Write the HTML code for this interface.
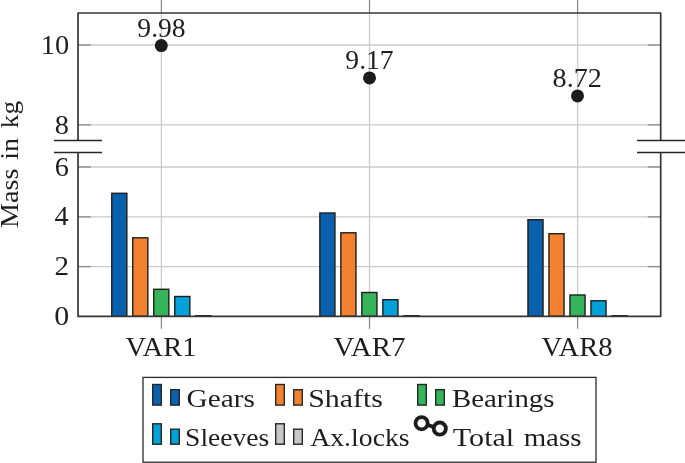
<!DOCTYPE html>
<html><head><meta charset="utf-8"><style>
html,body{margin:0;padding:0;background:#fff;}
body{width:685px;height:463px;overflow:hidden;}
svg{display:block;}
</style></head><body>
<svg width="685" height="463" viewBox="0 0 685 463" font-family="'Liberation Serif', serif">
<rect width="685" height="463" fill="#fff"/>
<g stroke="#cacaca" stroke-width="1.3"><line x1="78.0" y1="45.0" x2="660.7" y2="45.0"/><line x1="78.0" y1="124.85" x2="660.7" y2="124.85"/><line x1="78.0" y1="167.0" x2="660.7" y2="167.0"/><line x1="78.0" y1="216.9" x2="660.7" y2="216.9"/><line x1="78.0" y1="266.6" x2="660.7" y2="266.6"/><line x1="161.4" y1="13.0" x2="161.4" y2="316.3"/><line x1="369.5" y1="13.0" x2="369.5" y2="316.3"/><line x1="577.6" y1="13.0" x2="577.6" y2="316.3"/></g>
<g stroke="#8c8c8c" stroke-width="1.3"><line x1="78.0" y1="45.0" x2="91.0" y2="45.0"/><line x1="660.7" y1="45.0" x2="647.7" y2="45.0"/><line x1="78.0" y1="124.85" x2="91.0" y2="124.85"/><line x1="660.7" y1="124.85" x2="647.7" y2="124.85"/><line x1="78.0" y1="167.0" x2="91.0" y2="167.0"/><line x1="660.7" y1="167.0" x2="647.7" y2="167.0"/><line x1="78.0" y1="216.9" x2="91.0" y2="216.9"/><line x1="660.7" y1="216.9" x2="647.7" y2="216.9"/><line x1="78.0" y1="266.6" x2="91.0" y2="266.6"/><line x1="660.7" y1="266.6" x2="647.7" y2="266.6"/><line x1="161.4" y1="316.3" x2="161.4" y2="328.8"/><line x1="161.4" y1="-1" x2="161.4" y2="13.0"/><line x1="369.5" y1="316.3" x2="369.5" y2="328.8"/><line x1="369.5" y1="-1" x2="369.5" y2="13.0"/><line x1="577.6" y1="316.3" x2="577.6" y2="328.8"/><line x1="577.6" y1="-1" x2="577.6" y2="13.0"/></g>
<g stroke="#1e1e1e" stroke-width="1.4"><rect x="111.75" y="193.30" width="15.10" height="123.00" fill="#0960ad"/><rect x="132.75" y="237.80" width="15.10" height="78.50" fill="#f38130"/><rect x="153.75" y="289.30" width="15.10" height="27.00" fill="#35b45a"/><rect x="174.75" y="296.50" width="15.10" height="19.80" fill="#01a1da"/><rect x="195.75" y="315.70" width="15.10" height="0.60" fill="#c8c8c8"/><rect x="319.85" y="213.00" width="15.10" height="103.30" fill="#0960ad"/><rect x="340.85" y="232.80" width="15.10" height="83.50" fill="#f38130"/><rect x="361.85" y="292.50" width="15.10" height="23.80" fill="#35b45a"/><rect x="382.85" y="299.70" width="15.10" height="16.60" fill="#01a1da"/><rect x="403.85" y="315.70" width="15.10" height="0.60" fill="#c8c8c8"/><rect x="527.95" y="219.70" width="15.10" height="96.60" fill="#0960ad"/><rect x="548.95" y="233.70" width="15.10" height="82.60" fill="#f38130"/><rect x="569.95" y="295.00" width="15.10" height="21.30" fill="#35b45a"/><rect x="590.95" y="300.80" width="15.10" height="15.50" fill="#01a1da"/><rect x="611.95" y="315.70" width="15.10" height="0.60" fill="#c8c8c8"/></g>
<g stroke="#363636" stroke-width="1.7" fill="none" stroke-linejoin="round"><path d="M78.0,140.6 L78.0,13.0 L660.7,13.0 L660.7,140.6" /><path d="M78.0,152.4 L78.0,316.3 L660.7,316.3 L660.7,152.4" /></g>
<g stroke="#262626" stroke-width="1.5"><line x1="54" y1="140.6" x2="102" y2="140.6"/><line x1="54" y1="152.4" x2="102" y2="152.4"/><line x1="637" y1="140.6" x2="686" y2="140.6"/><line x1="637" y1="152.4" x2="686" y2="152.4"/></g>
<g fill="#1c1c1c"><circle cx="161.3" cy="45.6" r="6.5"/><circle cx="369.5" cy="77.9" r="6.5"/><circle cx="577.5" cy="95.9" r="6.5"/></g>
<g font-family="Liberation Serif, serif" opacity="0.999"><text transform="translate(40.78,53.90) scale(1.0801,1.0)" font-size="26.3" fill="#1e1e1e">10</text><text transform="translate(54.71,134.00) scale(1.0777,1.0)" font-size="26.3" fill="#1e1e1e">8</text><text transform="translate(54.72,175.80) scale(1.0741,1.0)" font-size="26.3" fill="#1e1e1e">6</text><text transform="translate(54.46,225.00) scale(1.0707,1.0)" font-size="26.3" fill="#1e1e1e">4</text><text transform="translate(54.49,274.90) scale(1.1086,1.0)" font-size="26.3" fill="#1e1e1e">2</text><text transform="translate(54.36,325.20) scale(1.1385,1.0)" font-size="26.3" fill="#1e1e1e">0</text><text transform="translate(125.60,356.20) scale(1.0584,1.0)" font-size="27.0" fill="#1e1e1e">VAR1</text><text transform="translate(333.60,356.20) scale(1.0720,1.0)" font-size="27.0" fill="#1e1e1e">VAR7</text><text transform="translate(541.60,356.20) scale(1.0592,1.0)" font-size="27.0" fill="#1e1e1e">VAR8</text><text transform="translate(137.34,36.60) scale(1.0500,1.0)" font-size="26.3" fill="#1e1e1e">9.98</text><text transform="translate(345.34,69.10) scale(1.0493,1.0)" font-size="26.3" fill="#1e1e1e">9.17</text><text transform="translate(552.62,86.70) scale(1.0712,1.0)" font-size="26.3" fill="#1e1e1e">8.72</text><text transform="translate(17.80,228.04) rotate(-90) scale(1.0434,0.95)" font-size="27.0" fill="#1e1e1e">Mass</text><text transform="translate(17.80,159.74) rotate(-90) scale(1.0399,0.95)" font-size="27.0" fill="#1e1e1e">in</text><text transform="translate(17.80,128.13) rotate(-90) scale(1.0131,0.95)" font-size="27.0" fill="#1e1e1e">kg</text><text transform="translate(186.48,406.70) scale(1.0862,0.95)" font-size="27.0" fill="#1e1e1e">Gears</text><text transform="translate(308.23,406.70) scale(1.1060,0.95)" font-size="27.0" fill="#1e1e1e">Shafts</text><text transform="translate(451.95,406.70) scale(1.0691,0.95)" font-size="27.0" fill="#1e1e1e">Bearings</text><text transform="translate(185.08,445.80) scale(1.0202,0.95)" font-size="27.0" fill="#1e1e1e">Sleeves</text><text transform="translate(310.20,445.80) scale(1.0278,0.95)" font-size="27.0" fill="#1e1e1e">Ax.locks</text><text transform="translate(452.83,445.80) scale(1.1151,0.95)" font-size="27.0" fill="#1e1e1e">Total</text><text transform="translate(523.65,445.80) scale(1.0706,0.95)" font-size="27.0" fill="#1e1e1e">mass</text></g>
<rect x="143" y="377.4" width="453" height="84.8" fill="none" stroke="#2a2a2a" stroke-width="1.3"/>
<g stroke="#262626" stroke-width="1.4"><rect x="152.70" y="384.50" width="8.60" height="20.60" fill="#0960ad"/><rect x="170.70" y="389.70" width="8.60" height="15.40" fill="#0960ad"/><rect x="275.70" y="384.50" width="8.60" height="20.60" fill="#f38130"/><rect x="293.70" y="389.70" width="8.60" height="15.40" fill="#f38130"/><rect x="417.70" y="384.50" width="8.60" height="20.60" fill="#35b45a"/><rect x="435.70" y="389.70" width="8.60" height="15.40" fill="#35b45a"/><rect x="152.70" y="423.80" width="8.60" height="20.40" fill="#01a1da"/><rect x="170.70" y="429.20" width="8.60" height="15.00" fill="#01a1da"/><rect x="275.70" y="423.80" width="8.60" height="20.40" fill="#c8c8c8"/><rect x="293.70" y="429.20" width="8.60" height="15.00" fill="#c8c8c8"/></g>
<g stroke="#1c1c1c" stroke-width="3.8"><line x1="421.6" y1="423.2" x2="439.8" y2="428.6"/><circle cx="421.6" cy="423.2" r="6.1" fill="#fff"/><circle cx="439.8" cy="428.6" r="6.1" fill="#fff"/></g>
</svg>
</body></html>
